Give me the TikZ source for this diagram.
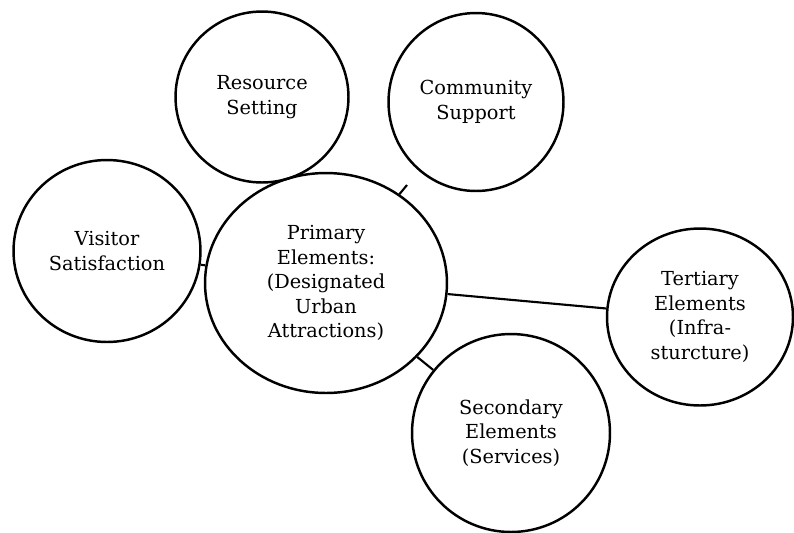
\documentclass[tikz,border=0pt]{standalone}
\usepackage{fontspec}
\setmainfont{DejaVu Serif}
\usepackage{tikz}
\usetikzlibrary{shapes.geometric}

\begin{document}
\begin{tikzpicture}[x=0.02cm,y=-0.02cm,
	bubble/.style={draw,ellipse,line width=1.4pt,inner sep=0pt,align=center,
		font=\fontsize{11}{14}\selectfont},
	link/.style={line width=1.2pt}]
	\useasboundingbox (0,0) rectangle (794,532);

	\node[bubble,minimum width=3.46cm,minimum height=3.42cm] (res) at (262,97) {Resource\\Setting};
	\node[bubble,minimum width=3.5cm,minimum height=3.56cm] (com) at (476,102) {Community\\Support};
	\node[bubble,minimum width=3.74cm,minimum height=3.64cm] (vis) at (107,251) {Visitor\\Satisfaction};
	\node[bubble,minimum width=4.84cm,minimum height=4.4cm] (prim) at (326,283)
		{Primary\\Elements:\\(Designated\\Urban\\Attractions)};
	\node[bubble,minimum width=3.72cm,minimum height=3.54cm] (ter) at (700,317)
		{Tertiary\\Elements\\(Infra-\\sturcture)};
	\node[bubble,minimum width=3.96cm,minimum height=3.96cm] (sec) at (511,433)
		{Secondary\\Elements\\(Services)};
	\coordinate (comtick) at (407,185);

	\draw[link] (prim) -- (vis);
	\draw[link] (prim) -- (comtick);
	\draw[link] (prim) -- (ter);
	\draw[link] (prim) -- (sec);
\end{tikzpicture}
\end{document}
